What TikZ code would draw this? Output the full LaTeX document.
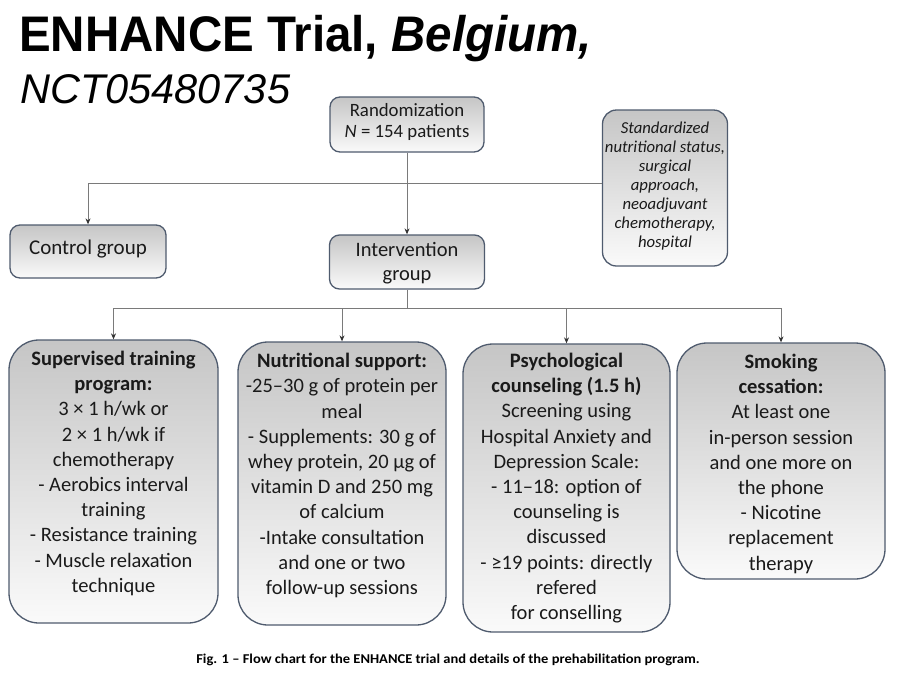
\documentclass[tikz,border=0pt]{standalone}
\usepackage{graphicx}
\usepackage{fontspec}
\setmainfont{Carlito}
\newfontfamily\titlefont{Liberation Sans}
\usetikzlibrary{arrows.meta}
\definecolor{bordc}{HTML}{4F5B6E}
\definecolor{linec}{HTML}{7A7A7A}
\definecolor{txtc}{HTML}{1A1A1A}
\begin{document}
\begin{tikzpicture}[x=1pt,y=-1pt,
  box/.style={draw=bordc, line width=1.3pt, top color=gray!45, bottom color=gray!4,
    rounded corners=#1, inner sep=0pt},
  txt/.style={inner sep=0pt, align=center, text=txtc},
  bigtxt/.style={txt, anchor=north, font=\fontsize{20.5}{25.2}\selectfont},
  conn/.style={draw=linec, line width=0.9pt},
  arr/.style={conn, -{Stealth[length=6pt,width=5pt,color=black!80]}}]
\useasboundingbox (0,0) rectangle (916,694);
\fill[white] (0,0) rectangle (916,694);

% title
\node[inner sep=0pt, anchor=base west, font=\titlefont\fontsize{50}{52}\selectfont\bfseries] (title) at (19,51)
  {\scalebox{0.95}[1]{ENHANCE Trial, \textit{Belgium,}}};
\node[inner sep=0pt, anchor=base west, font=\titlefont\fontsize{41.5}{45}\selectfont\itshape] (nct) at (20,103)
  {NCT05480735};

% small boxes
\node[box=10pt, minimum width=154pt, minimum height=55pt] (rand) at (407,124.5) {};
\node[txt, font=\fontsize{18.8}{21}\selectfont] (randt) at (407,122) {Randomization\\\textit{N} = 154 patients};

\node[box=14pt, minimum width=125pt, minimum height=156pt] (std) at (665,188) {};
\node[txt, font=\fontsize{16.7}{19}\selectfont\itshape] (stdt) at (665,186)
  {Standardized\\nutritional status,\\surgical\\approach,\\neoadjuvant\\chemotherapy,\\hospital};

\node[box=10pt, minimum width=156pt, minimum height=53pt] (ctrl) at (88,251.5) {};
\node[txt, font=\fontsize{21}{24}\selectfont] (ctrlt) at (88,249) {Control group};

\node[box=10pt, minimum width=155pt, minimum height=54pt] (interv) at (407,262) {};
\node[txt, font=\fontsize{20.5}{24}\selectfont] (intervt) at (407,263) {Intervention\\group};

% big boxes
\node[box=30pt, minimum width=209pt, minimum height=283pt] (b1) at (113.5,481.5) {};
\node[box=30pt, minimum width=208pt, minimum height=283pt] (b2) at (342,483.5) {};
\node[box=30pt, minimum width=207pt, minimum height=288pt] (b3) at (566.5,488) {};
\node[box=30pt, minimum width=208pt, minimum height=236pt] (b4) at (781,461) {};

\node[bigtxt] (b1t) at (113.5,351)
  {\textbf{Supervised training}\\\textbf{program:}\\3 × 1 h/wk or\\2 × 1 h/wk if\\chemotherapy\\- Aerobics interval\\training\\- Resistance training\\- Muscle relaxation\\technique};
\node[bigtxt] (b2t) at (342,353)
  {\textbf{Nutritional support:}\\-25–30 g of protein per\\meal\\- Supplements: 30 g of\\whey protein, 20 μg of\\vitamin D and 250 mg\\of calcium\\-Intake consultation\\and one or two\\follow-up sessions};
\node[bigtxt] (b3t) at (566.5,353)
  {\textbf{Psychological}\\\textbf{counseling (1.5 h)}\\Screening using\\Hospital Anxiety and\\Depression Scale:\\- 11–18: option of\\counseling is\\discussed\\- ≥19 points: directly\\refered\\for conselling};
\node[bigtxt] (b4t) at (781,354)
  {\textbf{Smoking}\\\textbf{cessation:}\\At least one\\in-person session\\and one more on\\the phone\\- Nicotine\\replacement\\therapy};

% connectors
\coordinate (hl) at (88,183);
\coordinate (bus) at (407,308);
\draw[conn] (std.west |- hl) -- (hl);
\draw[arr] (hl) -- (ctrl.north);
\draw[arr] (rand.south) -- (interv.north);
\draw[conn] (interv.south) -- (bus);
\draw[conn] (b1.north |- bus) -- (b4.north |- bus);
\draw[arr] (b1.north |- bus) -- (b1.north);
\draw[arr] (b2.north |- bus) -- (b2.north);
\draw[arr] (b3.north |- bus) -- (b3.north);
\draw[arr] (b4.north |- bus) -- (b4.north);

% caption
\node[inner sep=0pt, anchor=base, font=\fontsize{13.5}{15}\selectfont\bfseries] (cap) at (448,663)
  {\scalebox{1.075}[1]{Fig. 1 – Flow chart for the ENHANCE trial and details of the prehabilitation program.}};
\end{tikzpicture}
\end{document}
